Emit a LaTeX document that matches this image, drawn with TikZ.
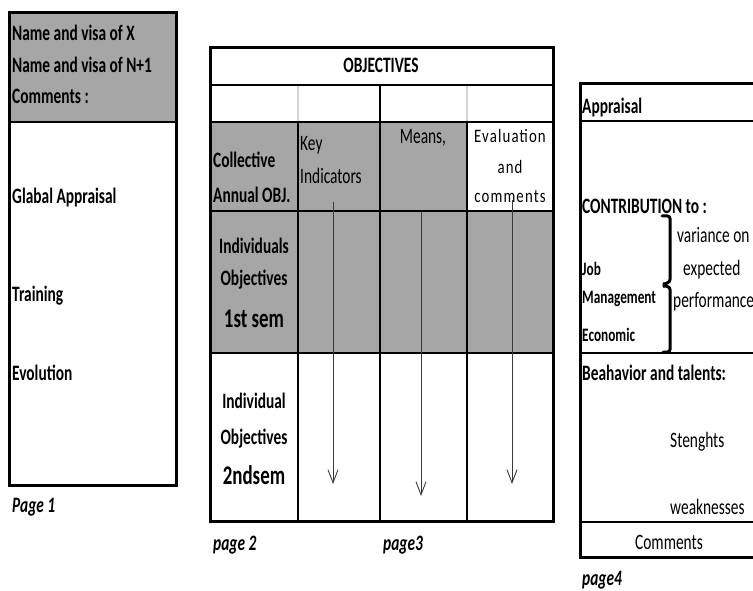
\documentclass[tikz,border=0pt]{standalone}
\usepackage{fontspec}
\setmainfont{Carlito}[FakeStretch=0.7]
\newfontfamily\evalfont{Carlito}[FakeStretch=0.78,LetterSpace=6]
\usetikzlibrary{arrows.meta}
\definecolor{cellgray}{HTML}{A6A6A6}
\definecolor{lightline}{HTML}{D4D4D4}
\definecolor{arrowgray}{HTML}{3A3A3A}
\tikzset{
  border/.style={line width=3pt},
  rule/.style={line width=2pt},
  thinrule/.style={line width=1.3pt},
  lightrule/.style={line width=1.3pt, draw=lightline},
  grayfill/.style={fill=cellgray},
  bt/.style={inner sep=0pt, anchor=base west, font=\fontsize{22}{26}\selectfont\bfseries},
  rt/.style={inner sep=0pt, anchor=base west, font=\fontsize{22}{26}\selectfont},
  rc/.style={inner sep=0pt, anchor=base, font=\fontsize{22}{26}\selectfont},
  bc/.style={inner sep=0pt, anchor=base, font=\fontsize{22}{26}\selectfont\bfseries},
  bigc/.style={inner sep=0pt, anchor=base, font=\fontsize{27}{31}\selectfont\bfseries},
  ec/.style={inner sep=0pt, anchor=base, font=\fontsize{19}{22}\selectfont\evalfont},
  st/.style={inner sep=0pt, anchor=base west, font=\fontsize{19}{22}\selectfont\bfseries},
  pg/.style={inner sep=0pt, anchor=base west, font=\fontsize{22}{26}\selectfont\bfseries\itshape},
  arr/.style={draw=arrowgray, line width=0.9pt, -{Straight Barb[length=13pt,width=10pt,line width=0.9pt]}},
  bracket/.style={line width=3pt, line cap=round, line join=round, rounded corners=2.5pt},
}
\begin{document}
\begin{tikzpicture}[x=1pt,y=-1pt]
\useasboundingbox (0,0) rectangle (753,591);
\clip (0,0) rectangle (753,591);

% ---------------- Page 1 ----------------
\fill[grayfill] (9,13) rectangle (176,122);
\draw[rule] (9,122) -- (176,122);
\draw[border] (9,13) rectangle (176,485);
\node[bt] (p1x) at (12,41) {Name and visa of X};
\node[bt] (p1n) at (12,73) {Name and visa of N+1};
\node[bt] (p1c) at (12,104) {Comments :};
\node[bt] (p1g) at (12,204) {Glabal Appraisal};
\node[bt] (p1t) at (12,301) {Training};
\node[bt] (p1e) at (12,380) {Evolution};
\node[pg] (pg1) at (12,512) {Page 1};

% ---------------- Page 2/3 ----------------
\fill[grayfill] (210,122) rectangle (467,211);
\fill[grayfill] (210,211) rectangle (553,353);
% light lines in row 2
\draw[lightrule] (298,85) -- (298,122);
\draw[lightrule] (467,85) -- (467,122);
% column lines
\draw[thinrule] (298,122) -- (298,521);
\draw[thinrule] (467,122) -- (467,521);
\draw[line width=2.6pt] (380,85) -- (380,521);
% row lines
\draw[rule] (210,85) -- (553,85);
\draw[line width=2.6pt] (210,122) -- (553,122);
\draw[rule] (210,211) -- (553,211);
\draw[rule] (210,353) -- (553,353);
\draw[border] (210,48) rectangle (553,521);

\node[bc] (obj) at (381,73) {OBJECTIVES};
\node[bt] (col1) at (213,168) {Collective};
\node[bt] (col2) at (213,203) {Annual OBJ.};
\node[rt] (key1) at (300,151) {Key};
\node[rt] (key2) at (300,184) {Indicators};
\node[rc] (means) at (423,144) {Means,};
\node[ec] (ev1) at (510,143) {Evaluation};
\node[ec] (ev2) at (510,174) {and};
\node[ec] (ev3) at (510,203) {comments};
\node[bc] (ind1) at (254,254) {Individuals};
\node[bc] (ind2) at (254,285) {Objectives};
\node[bigc] (ind3) at (254,327) {1st sem};
\node[bc] (in1) at (254,408) {Individual};
\node[bc] (in2) at (254,444) {Objectives};
\node[bigc] (in3) at (254,484) {2ndsem};
\node[pg] (pg2) at (213,550) {page 2};
\node[pg] (pg3) at (383,550) {page3};

\coordinate (a1s) at (333,202);
\coordinate (a1e) at (333,484);
\coordinate (a2s) at (421,212);
\coordinate (a2e) at (421,496);
\coordinate (a3s) at (512,200);
\coordinate (a3e) at (512,484);
\draw[arr] (a1s) -- (a1e);
\draw[arr] (a2s) -- (a2e);
\draw[arr] (a3s) -- (a3e);

% ---------------- Page 4 ----------------
\draw[rule] (580,121) -- (770,121);
\draw[rule] (580,353) -- (770,353);
\draw[thinrule] (580,522) -- (770,522);
\draw[border] (580,84) rectangle (790,557);

\node[bt] (app) at (582,114) {Appraisal};
\node[bt] (contr) at (582,214) {CONTRIBUTION to :};
\node[st] (job) at (582,276) {Job};
\node[st] (mgmt) at (582,303) {Management};
\node[st] (eco) at (582,341) {Economic};
\node[rt] (var1) at (677,242) {variance on};
\node[rt] (var2) at (683,275) {expected};
\node[rt] (var3) at (673,307) {performance};
\node[bt] (beh) at (582,380) {Beahavior and talents:};
\node[rt] (str) at (670,447) {Stenghts};
\node[rt] (weak) at (670,514) {weaknesses};
\node[rc] (comm) at (669,549) {Comments};
\node[pg] (pg4) at (582,585) {page4};

\coordinate (brt) at (662,216);
\coordinate (brb) at (663,352);
\draw[bracket] (brt) -- (670,216) -- (670,282) -- (664,284) -- (664,286) -- (670,287) -- (670,352) -- (brb);
\end{tikzpicture}
\end{document}
